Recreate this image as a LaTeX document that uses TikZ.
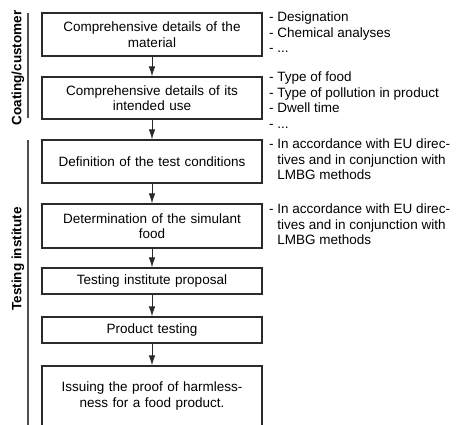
\documentclass[tikz,border=0pt]{standalone}
\usepackage{fontspec}
\setmainfont{Liberation Sans}
\usetikzlibrary{arrows.meta}
\definecolor{DGray}{HTML}{2B2B2B}
\definecolor{BarGray}{HTML}{505050}
\newcommand{\BodyFont}{\fontsize{13.5}{15.5}\selectfont}
\tikzset{
    stepbox/.style={draw=DGray, line width=1.1pt, minimum width=220pt,
        text width=206pt, align=center, inner sep=0pt, font=\BodyFont},
    notes/.style={anchor=north west, align=left, inner sep=0pt, font=\BodyFont},
    flow/.style={DGray, line width=1pt, -{Latex[length=10pt, width=6.5pt]}},
    sidelabel/.style={rotate=90, inner sep=0pt, font=\bfseries\BodyFont},
}
\newcommand{\Canvas}{
\useasboundingbox (0,0) rectangle (457,-424);
\coordinate (coat-top) at (28,-13);
\coordinate (coat-bottom) at (28,-118);
\coordinate (test-top) at (28,-140);
\coordinate (test-bottom) at (28,-430);
}

\begin{document}
\begin{tikzpicture}[x=1pt, y=1pt]
\Canvas
\draw[BarGray, line width=1.1pt] (coat-top) -- (coat-bottom);
\draw[BarGray, line width=1.1pt] (test-top) -- (test-bottom);
\node[sidelabel] (coating) at (18,-68) {Coating/customer};
\node[sidelabel] (institute) at (18,-259) {Testing institute};

\node[stepbox, minimum height=43pt] (material) at (152,-34.5)
    {Comprehensive details of the\\material};
\node[stepbox, minimum height=42pt] (use) at (152,-98)
    {Comprehensive details of its\\intended use};
\node[stepbox, minimum height=43pt] (conditions) at (152,-161.5)
    {Definition of the test conditions};
\node[stepbox, minimum height=44pt] (simulant) at (152,-226)
    {Determination of the simulant\\food};
\node[stepbox, minimum height=26pt] (proposal) at (152,-281)
    {Testing institute proposal};
\node[stepbox, minimum height=26pt] (testing) at (152,-330)
    {Product testing};
\node[stepbox, minimum height=60pt] (proof) at (152,-396)
    {Issuing the proof of harmless-\\ness for a food product.};

\draw[flow] (material) -- (use);
\draw[flow] (use) -- (conditions);
\draw[flow] (conditions) -- (simulant);
\draw[flow] (simulant) -- (proposal);
\draw[flow] (proposal) -- (testing);
\draw[flow] (testing) -- (proof);

\node[notes] (material-notes) at (269,-12)
    {- Designation\\- Chemical analyses\\- ...};
\node[notes] (use-notes) at (269,-72)
    {- Type of food\\- Type of pollution in product\\- Dwell time\\- ...};
\node[notes] (conditions-notes) at (269,-139)
    {- In accordance with EU direc-\\\phantom{- }tives and in conjunction with\\\phantom{- }LMBG methods};
\node[notes] (simulant-notes) at (269,-204)
    {- In accordance with EU direc-\\\phantom{- }tives and in conjunction with\\\phantom{- }LMBG methods};

\end{tikzpicture}
\end{document}
